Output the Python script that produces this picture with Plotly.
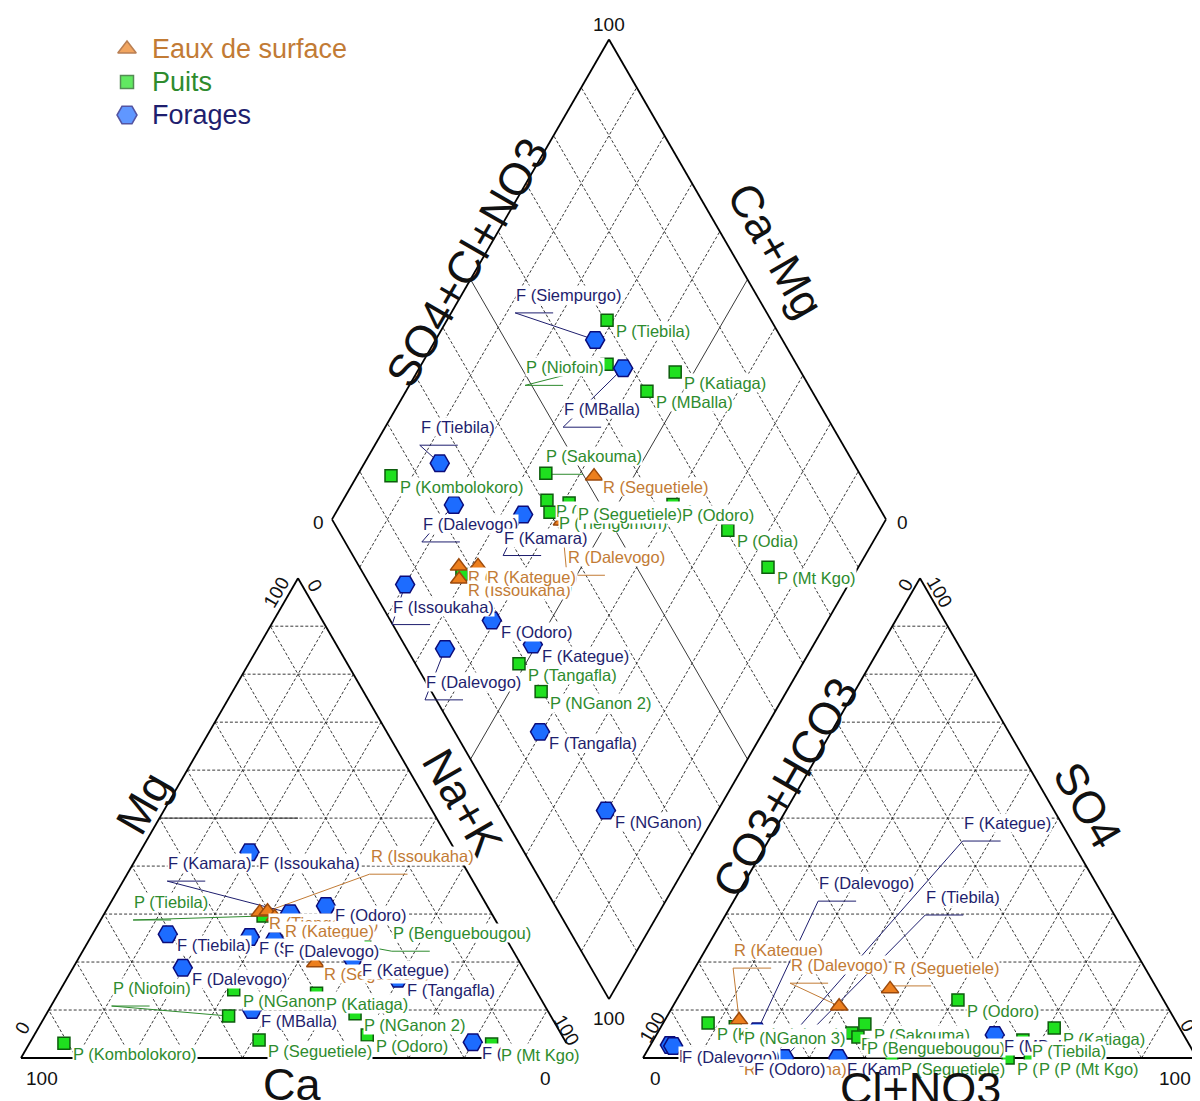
import plotly.graph_objects as go

SQ3 = 3 ** 0.5
FONT = "Arial, Liberation Sans, sans-serif"

# ---------------- data (percent of meq/l) ----------------
# cation triangle: Na+K and Mg (Ca is the remainder)
CAT_LABELS = [
    "F (Tiebila)", "F (Dalevogo)", "F (Issoukaha)", "R (Tiengomon)", "P (Tiebila)",
    "R (Issoukaha)", "F (Kamara)", "R (Kategue)", "F (Odoro)", "F (Siempurgo)",
    "F (Dalevogo)", "P (Benguebougou)", "R (Seguetiele)", "F (Kategue)", "F (Tangafla)",
    "P (NGanon 3)", "P (Katiaga)", "P (Niofoin)", "F (MBalla)", "P (NGanon 2)",
    "P (Kombolokoro)", "P (Seguetiele)", "P (Odoro)", "F (NGanon)", "P (Mt Kgo)",
]
CAT_TYPES = [
    "F", "F", "F", "R", "P", "R", "F", "R", "F", "F", "F", "P", "R", "F", "F",
    "P", "P", "P", "F", "P", "P", "P", "P", "F", "P",
]
CAT_NAK = [
    13.6, 19.8, 19.8, 27.9, 28.9, 29.2, 33.5, 31.1, 39.2, 28.7, 33.5, 50.4, 43.2, 49.6, 59.8,
    31.3, 46.6, 33.1, 36.7, 55.7, 6.2, 41.1, 60.1, 79.9, 83.5,
]
CAT_MG = [
    25.8, 18.8, 42.9, 30.4, 29.6, 30.6, 30.2, 29.4, 31.7, 25.2, 24.6, 23.3, 19.8, 20.6, 16.5,
    14.2, 13.5, 8.75, 10.0, 9.2, 3.1, 3.75, 4.8, 3.3, 2.9,
]

# anion triangle: Cl+NO3 and SO4 (CO3+HCO3 is the remainder)
AN_LABELS = [
    "P (Kombolokoro)", "R (Issoukaha)", "P (NGanon 3)", "R (Kategue)", "F (Dalevogo)",
    "F (Issoukaha)", "F (Dalevogo)", "F (Odoro)", "F (Kategue)", "F (Tiebila)",
    "F (Kamara)", "P (Tiengomon)", "P (Sakouma)", "P (Benguebougou)", "R (Dalevogo)",
    "R (Seguetiele)", "P (Seguetiele)", "P (Odoro)", "F (MBalla)", "P (Katiaga)",
    "P (Tiebila)", "P (Niofoin)", "P (Odia)", "P (Mt Kgo)",
]
AN_TYPES = [
    "P", "R", "P", "R", "F", "F", "F", "F", "F", "F", "F", "P", "P", "P", "R",
    "R", "P", "P", "F", "P", "P", "P", "P", "P",
]
AN_CL = [
    8.1, 16.6, 13.4, 13.4, 17.8, 3.5, 4.2, 18.4, 23.3, 25.5, 35.2, 35.1, 36.5, 36.6, 30.0,
    37.4, 44.9, 50.8, 61.1, 71.1, 66.7, 65.9, 69.9, 73.6,
]
AN_SO4 = [
    7.3, 0.0, 6.5, 7.9, 5.6, 2.7, 2.5, 0.0, 0.2, 0.0, 0.0, 5.2, 7.1, 4.4, 10.8,
    14.4, 0.0, 12.1, 4.8, 6.25, 3.75, 0.0, 0.0, 0.0,
]

# diamond: SO4+Cl+NO3 and Ca+Mg
DIA_LABELS = [
    "F (Siempurgo)", "P (Tiebila)", "P (Niofoin)", "F (MBalla)", "P (Katiaga)",
    "P (MBalla)", "F (Tiebila)", "P (Kombolokoro)", "P (Sakouma)", "R (Seguetiele)",
    "F (Dalevogo)", "F (Kamara)", "P (Benguebougou)", "P (Tiengomon)", "R (Dalevogo)",
    "P (Seguetiele)", "P (Odoro)", "P (Odia)", "P (Mt Kgo)", "P (NGanon 3)",
    "R (Tiengomon)", "R (Issoukaha)", "R (Kategue)", "F (Issoukaha)", "F (Odoro)",
    "F (Dalevogo)", "F (Kategue)", "P (Tangafla)", "P (NGanon 2)", "F (Tangafla)",
    "F (NGanon)",
]
DIA_TYPES = [
    "F", "P", "P", "F", "P", "P", "F", "P", "P", "R", "F", "F", "P", "P", "R",
    "P", "P", "P", "P", "P", "R", "R", "R", "F", "F", "F", "F", "P", "P", "F", "F",
]
DIA_SCL = [
    66.2, 70.4, 65.8, 68.3, 77.3, 70.2, 25.3, 15.2, 43.4, 51.8, 23.5, 35.0, 40.8, 40.1, 41.3,
    44.5, 63.1, 70.3, 73.7, 17.7, 18.0, 16.7, 21.5, 6.4, 18.3, 6.9, 23.2, 18.7, 19.8, 15.4, 19.1,
]
DIA_CAMG = [
    71.2, 71.1, 66.5, 63.2, 53.4, 56.5, 86.4, 93.9, 66.2, 57.2, 79.5, 66.0, 63.2, 61.4, 58.3,
    58.9, 40.0, 27.4, 16.3, 70.8, 72.2, 70.8, 68.8, 80.0, 60.6, 66.1, 50.7, 51.2, 44.3, 40.3, 20.2,
]

GROUP_ORDER = ["R", "P", "F"]
GROUP_NAMES = {"R": "Eaux de surface", "P": "Puits", "F": "Forages"}

# ---------------- geometry (axis units = screen pixels) ----------------
PAGE_OFFSET = 8  # body margin of the html page
SIDE = 554.0
H = SIDE * SQ3 / 2
BASE_Y = 1058.0
CAT_X0 = 21.0
AN_X0 = 643.0
GAP = AN_X0 - CAT_X0 - SIDE
DIA_X = CAT_X0 + SIDE + GAP / 2
DIA_Y = BASE_Y - GAP / 2 * SQ3


def cat_xy(nak, mg):
    return CAT_X0 + SIDE * (nak + mg / 2) / 100, BASE_Y - H * mg / 100


def an_xy(cl, so4):
    return AN_X0 + SIDE * (cl + so4 / 2) / 100, BASE_Y - H * so4 / 100


def dia_xy(scl, camg):
    return DIA_X + SIDE / 2 * (scl - camg) / 100, DIA_Y - H * (scl + camg) / 100


STYLE = {
    "R": dict(symbol="triangle-up", size=15, fill="#ec7f1e", edge="#9c4a0c", text="#c27b35"),
    "P": dict(symbol="square", size=12, fill="#1fe01f", edge="#0d5c0d", text="#2e8b2e"),
    "F": dict(symbol="hexagon2", size=19, fill="#1d6cff", edge="#0c0c7a", text="#1e1e6e"),
}
LABEL_SIZE = 16.5

# label placement (pixels relative to the marker); LABEL_SHIFT entries get a leader line
DEFAULT_SHIFT = (8, 11)
LABEL_NUDGE = {("cat", 7): (9, 14), ("cat", 8): (8, 9)}
LABEL_SHIFT = {
    ("dia", 0): (-80, -45), ("dia", 2): (-82, 3), ("dia", 3): (-60, 41),
    ("dia", 6): (-20, -36), ("dia", 8): (-1, -17), ("dia", 10): (-32, 19),
    ("dia", 11): (-20, 23), ("dia", 14): (5, 36), ("dia", 23): (-13, 22),
    ("dia", 25): (-20, 33),
    ("cat", 4): (-130, -14), ("cat", 5): (102, -55), ("cat", 6): (-123, -50),
    ("cat", 11): (27, -13), ("cat", 17): (-117, -28),
    ("an", 3): (-6, -70), ("an", 4): (61, -148), ("an", 8): (190, -234),
    ("an", 9): (141, -161), ("an", 14): (-49, -41), ("an", 15): (3, -21),
}

PLOTS = [
    ("cat", CAT_LABELS, CAT_TYPES, CAT_NAK, CAT_MG, cat_xy),
    ("dia", DIA_LABELS, DIA_TYPES, DIA_SCL, DIA_CAMG, dia_xy),
    ("an", AN_LABELS, AN_TYPES, AN_CL, AN_SO4, an_xy),
]

fig = go.Figure()


def add_segments(segs, color, width, dash=None):
    xs, ys = [], []
    for (x0, y0), (x1, y1) in segs:
        xs += [x0, x1, None]
        ys += [y0, y1, None]
    fig.add_trace(go.Scatter(
        x=xs, y=ys, mode="lines", hoverinfo="skip", showlegend=False,
        line=dict(color=color, width=width, dash=dash),
    ))


# dashed 10 % grids
grid = []
for pt in (cat_xy, an_xy):
    for k in range(10, 100, 10):
        grid.append((pt(0, k), pt(100 - k, k)))
        grid.append((pt(k, 0), pt(k, 100 - k)))
        grid.append((pt(100 - k, 0), pt(0, 100 - k)))
for k in range(10, 100, 10):
    if k != 50:
        grid.append((dia_xy(k, 0), dia_xy(k, 100)))
        grid.append((dia_xy(0, k), dia_xy(100, k)))
add_segments(grid, "#222222", 0.9, "3px,2px")

# solid facies lines
add_segments([
    (dia_xy(50, 0), dia_xy(50, 100)),
    (dia_xy(0, 50), dia_xy(100, 50)),
    (cat_xy(0, 50), cat_xy(25, 50)),
], "#222222", 0.9)

# outlines
outline = []
for pt in (cat_xy, an_xy):
    corners = [pt(0, 0), pt(100, 0), pt(0, 100)]
    outline += [(corners[i], corners[(i + 1) % 3]) for i in range(3)]
corners = [dia_xy(0, 0), dia_xy(100, 0), dia_xy(100, 100), dia_xy(0, 100)]
outline += [(corners[i], corners[(i + 1) % 4]) for i in range(4)]
add_segments(outline, "black", 1.8)

# leader lines
leaders = {g: [] for g in GROUP_ORDER}
for key, labels, types, va, vb, to_xy in PLOTS:
    for i in range(len(labels)):
        if (key, i) in LABEL_SHIFT:
            mx, my = to_xy(va[i], vb[i])
            dx, dy = LABEL_SHIFT[(key, i)]
            lx, ly = mx + dx, my + dy + 18
            leaders[types[i]].append(((mx, my), (lx, ly)))
            leaders[types[i]].append(((lx, ly), (lx + 38, ly)))
for g in GROUP_ORDER:
    add_segments(leaders[g], STYLE[g]["text"], 1)

# sample markers (wells below boreholes below surface waters)
for g in ("P", "F", "R"):
    xs, ys = [], []
    for key, labels, types, va, vb, to_xy in PLOTS:
        for i in range(len(labels)):
            if types[i] == g:
                x, y = to_xy(va[i], vb[i])
                xs.append(x)
                ys.append(y)
    st = STYLE[g]
    fig.add_trace(go.Scatter(
        x=xs, y=ys, mode="markers", hoverinfo="skip", showlegend=False,
        marker=dict(symbol=st["symbol"], size=st["size"], color=st["fill"],
                    line=dict(color=st["edge"], width=1.5)),
    ))

# legend keys, drawn by hand so each entry keeps its own text colour
LEGEND_X, LEGEND_Y0, LEGEND_STEP = 127, 49, 33
fig.add_trace(go.Scatter(
    x=[LEGEND_X] * 3,
    y=[LEGEND_Y0 + LEGEND_STEP * k for k in range(3)],
    mode="markers", hoverinfo="skip", showlegend=False,
    marker=dict(
        symbol=[STYLE[g]["symbol"] for g in GROUP_ORDER],
        size=[STYLE[g]["size"] + 1 for g in GROUP_ORDER],
        color=[STYLE[g]["fill"] for g in GROUP_ORDER],
        line=dict(color=[STYLE[g]["edge"] for g in GROUP_ORDER], width=1.5),
    ),
))

annotations = []
for k, g in enumerate(GROUP_ORDER):
    annotations.append(dict(
        x=LEGEND_X + 23, y=LEGEND_Y0 + LEGEND_STEP * k, text=GROUP_NAMES[g],
        showarrow=False, xanchor="left", yanchor="middle",
        font=dict(family=FONT, size=27, color=STYLE[g]["text"]),
    ))

# sample labels (opaque background, drawn in list order)
for key, labels, types, va, vb, to_xy in PLOTS:
    for i in range(len(labels)):
        mx, my = to_xy(va[i], vb[i])
        dx, dy = LABEL_SHIFT.get((key, i), LABEL_NUDGE.get((key, i), DEFAULT_SHIFT))
        annotations.append(dict(
            x=mx + dx, y=my + dy, text=labels[i], showarrow=False,
            xanchor="left", yanchor="middle", bgcolor="white", borderpad=0,
            font=dict(family=FONT, size=LABEL_SIZE, color=STYLE[types[i]]["text"]),
        ))


def add_text(x, y, text, size, angle=0):
    annotations.append(dict(
        x=x, y=y, text=text, showarrow=False, textangle=angle,
        xanchor="center", yanchor="middle",
        font=dict(family=FONT, size=size, color="#111111"),
    ))


# tick labels
add_text(DIA_X, 24, "100", 19)
add_text(DIA_X, 1018, "100", 19)
add_text(318, 522, "0", 19)
add_text(902, 522, "0", 19)
add_text(42, 1078, "100", 19)
add_text(545, 1078, "0", 19)
add_text(276, 592, "100", 19, -60)
add_text(315, 585, "0", 19, 60)
add_text(22, 1028, "0", 19, -60)
add_text(567, 1030, "100", 19, 60)
add_text(655, 1078, "0", 19)
add_text(1175, 1078, "100", 19)
add_text(905, 585, "0", 19, -60)
add_text(940, 592, "100", 19, 60)
add_text(652, 1027, "100", 19, -60)
add_text(1188, 1025, "0", 19, 60)

# axis titles
add_text(143, 803, "Mg", 45, -60)
add_text(463, 802, "Na+K", 45, 60)
add_text(292, 1084, "Ca", 45)
add_text(785, 787, "CO3+HCO3", 45, -60)
add_text(1088, 805, "SO4", 45, 60)
add_text(920, 1088, "Cl+NO3", 45)
add_text(467, 262, "SO4+Cl+NO3", 45, -60)
add_text(776, 250, "Ca+Mg", 45, 60)

fig.update_layout(
    width=1200, height=1101,
    margin=dict(l=0, r=0, t=0, b=0),
    paper_bgcolor="white", plot_bgcolor="white",
    xaxis=dict(range=[PAGE_OFFSET, 1200 + PAGE_OFFSET], visible=False, fixedrange=True),
    yaxis=dict(range=[1101 + PAGE_OFFSET, PAGE_OFFSET], visible=False, fixedrange=True),
    annotations=annotations,
    showlegend=False,
)

fig.write_html("out.html")
